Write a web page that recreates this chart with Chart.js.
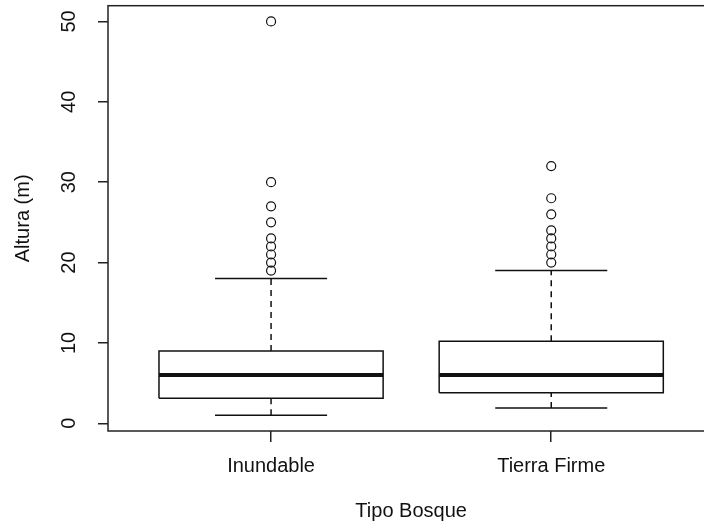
<!DOCTYPE html>
<html>
<head>
<meta charset="utf-8">
<script src="https://cdn.jsdelivr.net/npm/chart.js@4.4.1/dist/chart.umd.min.js"></script>
<style>
  html, body { margin: 0; padding: 0; background: #fff; overflow: hidden; }
</style>
</head>
<body>
<canvas id="boxChart" width="720" height="524"></canvas>
<script>
  // values
  const categories = ['Inundable', 'Tierra Firme'];
  const whiskerLow = [1, 1.9];
  const quartile1 = [3.1, 3.8];
  const medians = [6, 6];
  const quartile3 = [9, 10.2];
  const whiskerHigh = [18, 19];
  const outliersInundable = [19, 20, 21, 22, 23, 25, 27, 30, 50];
  const outliersTierraFirme = [20, 21, 22, 23, 24, 26, 28, 32];
  const yTicks = [0, 10, 20, 30, 40, 50];

  const outliers = [outliersInundable, outliersTierraFirme];
  const halfBox = 0.4;
  const halfCap = 0.2;
  const ink = '#111';
  const font = { family: "'Liberation Sans', Arial, sans-serif", size: 20 };

  const boxPts = [], medianPts = [], whiskerPts = [], capPts = [], outlierPts = [];
  categories.forEach((c, i) => {
    const x = i + 1;
    boxPts.push(
      { x: x - halfBox, y: quartile1[i] }, { x: x + halfBox, y: quartile1[i] },
      { x: x + halfBox, y: quartile3[i] }, { x: x - halfBox, y: quartile3[i] },
      { x: x - halfBox, y: quartile1[i] }, { x: x, y: null }
    );
    medianPts.push({ x: x - halfBox, y: medians[i] }, { x: x + halfBox, y: medians[i] }, { x: x, y: null });
    whiskerPts.push(
      { x: x, y: quartile3[i] }, { x: x, y: whiskerHigh[i] }, { x: x, y: null },
      { x: x, y: whiskerLow[i] }, { x: x, y: quartile1[i] }, { x: x, y: null }
    );
    capPts.push(
      { x: x - halfCap, y: whiskerHigh[i] }, { x: x + halfCap, y: whiskerHigh[i] }, { x: x, y: null },
      { x: x - halfCap, y: whiskerLow[i] }, { x: x + halfCap, y: whiskerLow[i] }, { x: x, y: null }
    );
    outliers[i].forEach(v => outlierPts.push({ x: x, y: v }));
  });

  const lineSet = (data, width, dash) => ({
    data: data,
    showLine: true,
    spanGaps: false,
    pointRadius: 0,
    borderColor: ink,
    borderWidth: width,
    borderDash: dash || [],
    borderJoinStyle: 'miter',
    borderCapStyle: 'butt',
    tension: 0
  });

  const framePlugin = {
    id: 'frame',
    afterDraw(chart) {
      const { ctx, chartArea: a } = chart;
      ctx.save();
      ctx.strokeStyle = '#222';
      ctx.lineWidth = 1.5;
      ctx.strokeRect(a.left, a.top, a.right - a.left, a.bottom - a.top);
      ctx.restore();
    }
  };

  new Chart(document.getElementById('boxChart'), {
    type: 'scatter',
    data: {
      datasets: [
        lineSet(boxPts, 1.5),
        lineSet(medianPts, 4),
        lineSet(whiskerPts, 1.5, [6, 5]),
        lineSet(capPts, 1.5),
        {
          data: outlierPts,
          showLine: false,
          pointStyle: 'circle',
          pointRadius: 4.5,
          pointBorderWidth: 1.2,
          pointBorderColor: ink,
          pointBackgroundColor: 'rgba(0,0,0,0)'
        }
      ]
    },
    options: {
      responsive: false,
      animation: false,
      layout: { padding: { top: 5, right: 4, left: 0, bottom: 0 } },
      plugins: { legend: { display: false }, tooltip: { enabled: false } },
      scales: {
        x: {
          type: 'linear',
          min: 0.418,
          max: 2.582,
          afterBuildTicks: s => { s.ticks = categories.map((c, i) => ({ value: i + 1 })); },
          afterFit: s => { s.height = 93; s.paddingLeft = 0; s.paddingRight = 0; },
          ticks: {
            callback: v => categories[v - 1],
            font: font, color: ink, padding: 12, autoSkip: false, maxRotation: 0
          },
          grid: { drawOnChartArea: false, tickLength: 11, color: '#222', lineWidth: 1.5 },
          border: { display: false },
          title: { display: true, text: 'Tipo Bosque', font: font, color: ink, padding: { top: 0, bottom: 1 } }
        },
        y: {
          min: -0.96,
          max: 51.96,
          afterBuildTicks: s => { s.ticks = yTicks.map(v => ({ value: v })); },
          afterFit: s => { s.width = 108; s.paddingTop = 0; s.paddingBottom = 0; },
          ticks: {
            minRotation: 90, maxRotation: 90, crossAlign: 'center',
            font: font, color: ink, padding: 17
          },
          grid: { drawOnChartArea: false, tickLength: 10, color: '#222', lineWidth: 1.5 },
          border: { display: false },
          title: { display: true, text: 'Altura (m)', font: font, color: ink, padding: { top: 11, bottom: 0 } }
        }
      }
    },
    plugins: [framePlugin]
  });
</script>
</body>
</html>
